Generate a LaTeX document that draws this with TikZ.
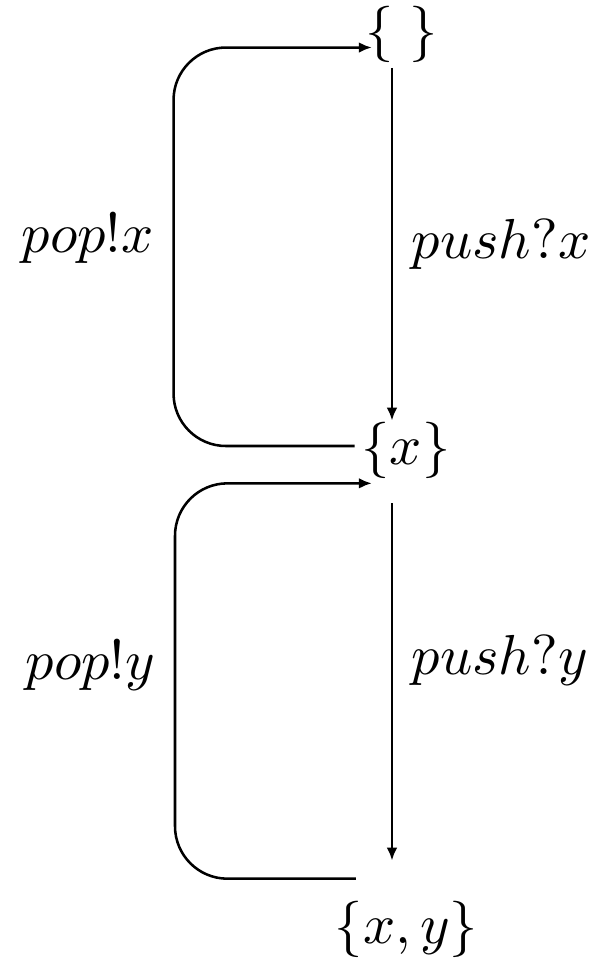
\documentclass[tikz,border=0pt]{standalone}
\usepackage{amsmath}
\usepackage{amssymb}
\usetikzlibrary{arrows.meta, positioning}

\begin{document}
\begin{tikzpicture}[x=0.1773pt, y=-0.1773pt,
		state/.style={inner sep=0pt},
		lbl/.style={inner sep=3.3pt},
		arr/.style={-{Latex[length=2.3pt,width=1.9pt]}, line width=0.45pt},
		loop/.style={arr, rounded corners=9.3pt}]
				\useasboundingbox (0,0) rectangle (601,961);
				\node[state] (empty) at (401.5,34.5) {$\{\;\}$};
				\node[state] (one) at (406,450) {$\{x\}$};
				\node[state] (two) at (406.5,929) {$\{x,y\}$};
				\draw[arr] ([shift={(-9.5,4)}]empty.south) -- node[lbl, right] (pushx) {$push?x$} ([shift={(-14,0)}]one.north);
				\draw[arr] ([shift={(-14,24)}]one.south) -- node[lbl, right, pos=0.44] (pushy) {$push?y$} ([shift={(-14.5,-39)}]two.north);
				\draw[loop] ([shift={(-6,-4)}]one.west) -- +(-181,0) |- node[lbl, left, pos=0.26] (popx) {$pop!x$} ([shift={(7.5,13)}]empty.west);
				\draw[loop] ([shift={(-50.5,-21)}]two.north) -- +(-181,0) |- node[lbl, left, pos=0.27] (popy) {$pop!y$} ([shift={(11.3,4)}]one.south west);
			\end{tikzpicture}
\end{document}
